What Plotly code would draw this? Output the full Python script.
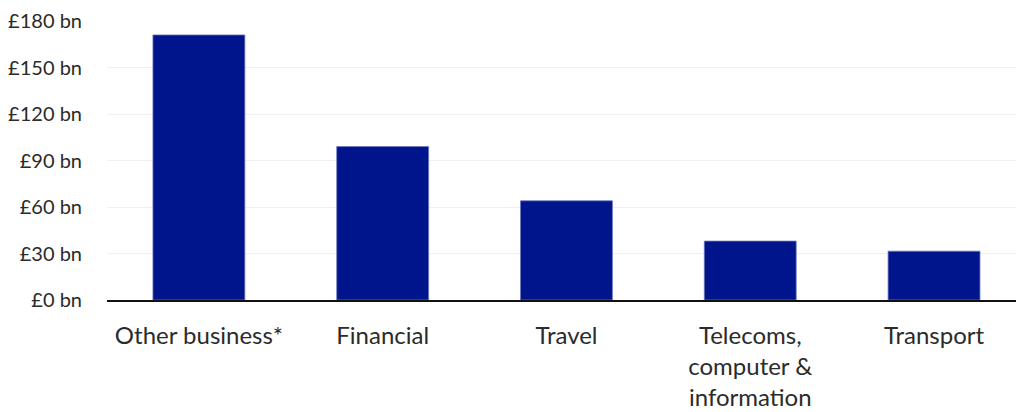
import plotly.graph_objects as go

# UK services exports by category (£ billions)
categories = ["Other business*", "Financial", "Travel",
              "Telecoms,<br>computer &amp;<br>information", "Transport"]
values = [171, 99, 64, 38, 31.5]

tick_values = [0, 30, 60, 90, 120, 150, 180]
tick_labels = ["£0 bn", "£30 bn", "£60 bn", "£90 bn", "£120 bn", "£150 bn", "£180 bn"]

BAR_COLOR = "#00148c"
TEXT_COLOR = "#2b2b2b"
FONT = "Lato, 'Open Sans', sans-serif"

fig = go.Figure(
    go.Bar(
        x=list(range(len(categories))),
        y=values,
        width=0.5,
        marker=dict(color=BAR_COLOR, line=dict(color="#6b75bd", width=0.8)),
        hoverinfo="skip",
    )
)

fig.update_layout(
    width=1016,
    height=412,
    margin=dict(l=107, r=0, t=21, b=112),
    paper_bgcolor="white",
    plot_bgcolor="white",
    showlegend=False,
    font=dict(family=FONT, size=21, color=TEXT_COLOR),
)

fig.update_xaxes(
    range=[-0.5, 4.446],
    tickmode="array",
    tickvals=list(range(len(categories))),
    ticktext=categories,
    tickfont=dict(size=24),
    showgrid=False,
    zeroline=False,
    showline=True,
    linecolor="#111111",
    linewidth=1.5,
    ticks="",
    ticklabelstandoff=13,
)

fig.update_yaxes(
    range=[0, 180],
    tickmode="array",
    tickvals=tick_values,
    ticktext=tick_labels,
    tickfont=dict(size=20),
    showgrid=True,
    gridcolor="#f0f0f0",
    gridwidth=1,
    zeroline=False,
    showline=False,
    ticks="",
    ticklabelstandoff=24,
)

fig.write_html("out.html")
